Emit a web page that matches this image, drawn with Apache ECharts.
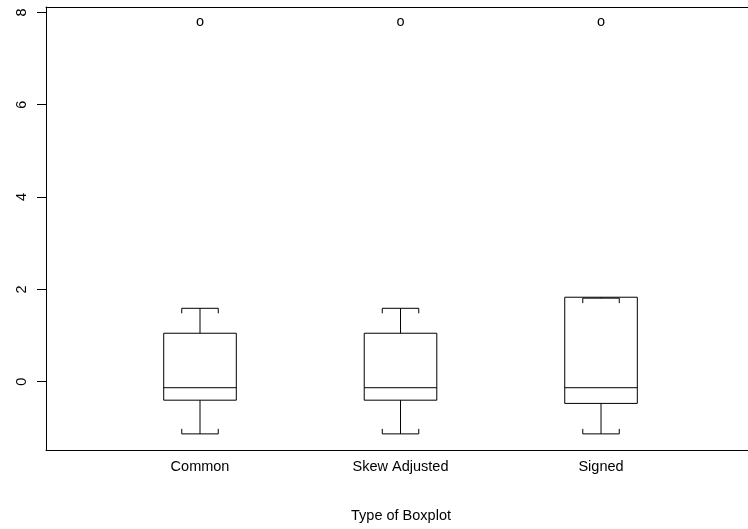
<!DOCTYPE html>
<html>
<head>
<meta charset="utf-8">
<script src="https://cdn.jsdelivr.net/npm/echarts@6/dist/echarts.min.js"></script>
<style>
html,body{margin:0;padding:0;background:#fff;}
#chart{width:748px;height:529px;}
</style>
</head>
<body>
<div id="chart"></div>
<script>
var categories = ['Common', 'Skew Adjusted', 'Signed'];
var lowerWhisker = [-1.13, -1.13, -1.13];
var q1 = [-0.40, -0.40, -0.47];
var median = [-0.13, -0.13, -0.13];
var q3 = [1.05, 1.05, 1.83];
var upperWhisker = [1.59, 1.59, 1.81];
var outliers = [7.80, 7.80, 7.80];
var yTicks = [0, 2, 4, 6, 8];

var boxData = categories.map(function (c, i) {
  return [i + 1, lowerWhisker[i], q1[i], median[i], q3[i], upperWhisker[i]];
});
var outlierData = outliers.map(function (v, i) { return [i + 1, v]; });

var FONT = '"Liberation Sans", Arial, Helvetica, sans-serif';
var FS = 14.5;
var chart = echarts.init(document.getElementById('chart'), null, {renderer: 'canvas'});

function lineEl(x1, y1, x2, y2) {
  return {type: 'line', shape: {x1: x1, y1: y1, x2: x2, y2: y2},
    style: {stroke: '#000', lineWidth: 1}};
}

chart.setOption({
  animation: false,
  backgroundColor: '#fff',
  grid: {left: 46, right: 0, top: 7, bottom: 79, containLabel: false},
  xAxis: [{
    type: 'value', min: 0.2319, max: 3.733, position: 'bottom',
    axisLine: {show: true, onZero: false, lineStyle: {color: '#000', width: 1}},
    axisTick: {show: false},
    splitLine: {show: false},
    axisLabel: {
      customValues: [1, 2, 3], color: '#000', fontSize: FS, fontFamily: FONT, margin: 9,
      formatter: function (v) { return categories[Math.round(v) - 1] || ''; }
    },
    name: 'Type of Boxplot', nameLocation: 'middle', nameGap: 58,
    nameTextStyle: {color: '#000', fontSize: FS, fontFamily: FONT, padding: [0, 0, 0, 8]}
  }, {
    type: 'value', min: 0.2319, max: 3.733, position: 'top',
    axisLine: {show: true, onZero: false, lineStyle: {color: '#000', width: 1}},
    axisTick: {show: false}, axisLabel: {show: false}, splitLine: {show: false}
  }],
  yAxis: {
    type: 'value', min: -1.479, max: 8.116,
    axisLine: {show: true, onZero: false, lineStyle: {color: '#000', width: 1}},
    axisTick: {show: true, customValues: yTicks, length: 9, lineStyle: {color: '#000'}},
    axisLabel: {customValues: yTicks, rotate: 90, color: '#000', fontSize: FS, fontFamily: FONT, margin: 17},
    splitLine: {show: false}
  },
  series: [{
    type: 'custom',
    xAxisIndex: 0,
    data: boxData,
    encode: {x: 0, y: [1, 2, 3, 4, 5]},
    renderItem: function (params, api) {
      var x = api.value(0);
      var unit = api.size([1, 0])[0];
      var bh = unit * 0.181, ch = unit * 0.091, tk = 5;
      var pLW = api.coord([x, api.value(1)]);
      var pQ1 = api.coord([x, api.value(2)]);
      var pMd = api.coord([x, api.value(3)]);
      var pQ3 = api.coord([x, api.value(4)]);
      var pUW = api.coord([x, api.value(5)]);
      var cx = pMd[0];
      return {type: 'group', children: [
        {type: 'rect', shape: {x: cx - bh, y: pQ3[1], width: 2 * bh, height: pQ1[1] - pQ3[1]},
          style: {fill: 'none', stroke: '#000', lineWidth: 1}},
        lineEl(cx - bh, pMd[1], cx + bh, pMd[1]),
        lineEl(cx, pQ3[1], cx, pUW[1]),
        lineEl(cx, pQ1[1], cx, pLW[1]),
        lineEl(cx - ch, pUW[1], cx + ch, pUW[1]),
        lineEl(cx - ch, pUW[1], cx - ch, pUW[1] + tk),
        lineEl(cx + ch, pUW[1], cx + ch, pUW[1] + tk),
        lineEl(cx - ch, pLW[1], cx + ch, pLW[1]),
        lineEl(cx - ch, pLW[1], cx - ch, pLW[1] - tk),
        lineEl(cx + ch, pLW[1], cx + ch, pLW[1] - tk)
      ]};
    }
  }, {
    type: 'custom',
    xAxisIndex: 0,
    data: outlierData,
    encode: {x: 0, y: 1},
    renderItem: function (params, api) {
      var p = api.coord([api.value(0), api.value(1)]);
      return {type: 'text', x: p[0], y: p[1],
        style: {text: 'o', fill: '#000', fontSize: FS, fontFamily: FONT, align: 'center', verticalAlign: 'middle'}};
    }
  }]
});
</script>
</body>
</html>
